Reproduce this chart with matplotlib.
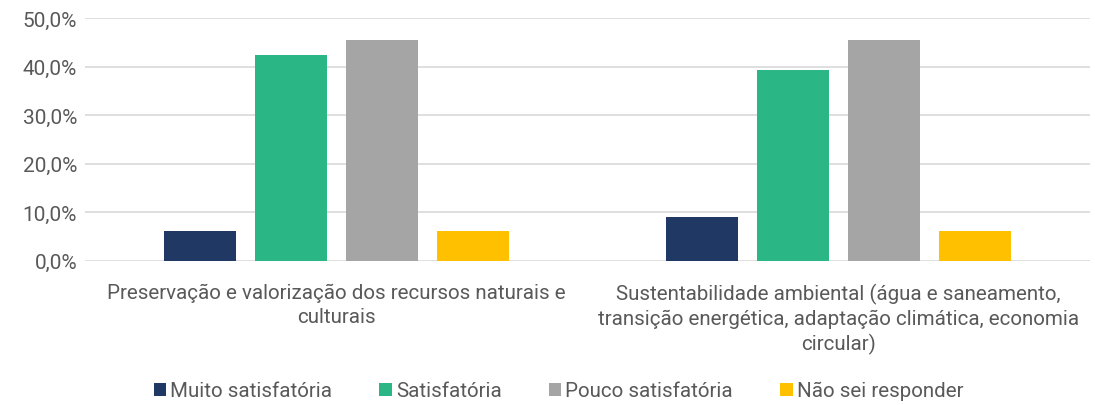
import numpy as np
import matplotlib.pyplot as plt
from matplotlib.ticker import FuncFormatter

plt.rcParams['font.family'] = ['Roboto', 'DejaVu Sans']

categories = ['Preservação e valorização dos recursos naturais e\nculturais',
              'Sustentabilidade ambiental (água e saneamento,\ntransição energética, adaptação climática, economia\ncircular)']
series = ['Muito satisfatória', 'Satisfatória', 'Pouco satisfatória', 'Não sei responder']
values = [[6.1, 9.1],
          [42.4, 39.4],
          [45.5, 45.5],
          [6.1, 6.1]]
colors = ['#203864', '#2BB785', '#A5A5A5', '#FFC000']

fig = plt.figure(figsize=(10.95, 4.06), dpi=100)
ax = fig.add_axes([0.078, 0.355, 0.917, 0.598])

x = np.arange(len(categories))
w = 0.143
step = 0.181
for i, s in enumerate(series):
    ax.bar(x + (i - 1.5) * step, values[i], w, color=colors[i], label=s, zorder=3)

ax.set_xlim(-0.5, 1.5)
ax.set_ylim(0, 50)
ax.set_yticks(np.arange(0, 51, 10))
ax.yaxis.set_major_formatter(FuncFormatter(lambda v, p: f'{v:.1f}%'.replace('.', ',')))
ax.set_xticks(x)
ax.set_xticklabels(categories, fontsize=14.8, color='#595959', linespacing=1.3)
ax.tick_params(axis='y', labelsize=15, labelcolor='#595959', length=0, pad=6)
ax.tick_params(axis='x', length=0, pad=16)
ax.grid(axis='y', color='#D9D9D9', linewidth=1.2, zorder=0)
for sp in ax.spines.values():
    sp.set_visible(False)

fig.legend(loc='center', bbox_to_anchor=(0.51, 0.035), ncol=4, frameon=False,
           fontsize=14.8, labelcolor='#595959', handlelength=0.6, handleheight=0.6,
           handletextpad=0.2, columnspacing=2.3)

fig.savefig('out.png', dpi=100)
